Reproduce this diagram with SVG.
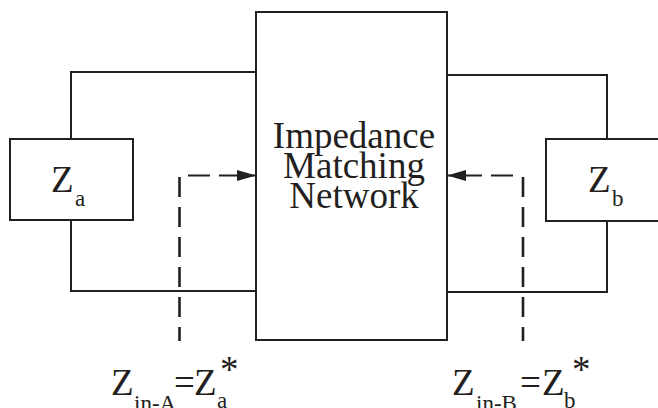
<svg xmlns="http://www.w3.org/2000/svg" width="658" height="408" viewBox="0 0 658 408">
<style>
.ln{fill:none;stroke:#231f20;stroke-width:2}
.box{fill:#fff;stroke:#231f20;stroke-width:2}
.dv{fill:none;stroke:#231f20;stroke-width:2.6;stroke-dasharray:20 10}
.dh{fill:none;stroke:#231f20;stroke-width:2;stroke-dasharray:22 9}
text{font-family:"Liberation Serif","Times New Roman",serif;fill:#231f20}
.big{font-size:37px}
.sub{font-size:23px}
</style>
<defs>
<marker id="ah" markerUnits="userSpaceOnUse" markerWidth="20" markerHeight="12" refX="19" refY="6" orient="auto">
<path d="M0,0.5 L19,6 L0,11.5 z" fill="#231f20"/>
</marker>
</defs>
<g id="connectors">
<polyline class="ln" points="71,139 71,72 256,72"/>
<polyline class="ln" points="71,220 71,291 256,291"/>
<polyline class="ln" points="447,75 607,75 607,139"/>
<polyline class="ln" points="447,292 607,292 607,221"/>
<line class="dv" x1="179.5" y1="177" x2="179.5" y2="341"/>
<line class="dv" x1="523" y1="177" x2="523" y2="341"/>
<line class="dh" x1="188" y1="175.5" x2="256" y2="175.5" marker-end="url(#ah)"/>
<line class="dh" x1="513" y1="175.5" x2="447" y2="175.5" marker-end="url(#ah)"/>
</g>
<g id="network">
<rect class="box" x="256" y="12" width="191" height="328"/>
<text class="big" x="354" y="148" text-anchor="middle">Impedance</text>
<text class="big" x="354" y="178" text-anchor="middle">Matching</text>
<text class="big" x="354" y="208" text-anchor="middle">Network</text>
</g>
<g id="Za">
<rect class="box" x="10" y="139" width="123" height="81"/>
<text class="big" x="51" y="192">Z</text>
<text class="sub" x="75" y="206">a</text>
</g>
<g id="Zb">
<rect class="box" x="546" y="139" width="120" height="82"/>
<text class="big" x="588" y="192">Z</text>
<text class="sub" x="612" y="206">b</text>
</g>
<g id="labelA">
<text class="big" x="111" y="395">Z</text>
<text class="sub" x="134" y="411">in-A</text>
<text class="big" x="174" y="395">=</text>
<text class="big" x="194" y="395">Z</text>
<text class="sub" x="217" y="408">a</text>
<text class="big" x="220" y="382">*</text>
</g>
<g id="labelB">
<text class="big" x="452" y="395">Z</text>
<text class="sub" x="476" y="411">in-B</text>
<text class="big" x="520" y="395">=</text>
<text class="big" x="542" y="395">Z</text>
<text class="sub" x="564" y="408">b</text>
<text class="big" x="572" y="382">*</text>
</g>
</svg>
